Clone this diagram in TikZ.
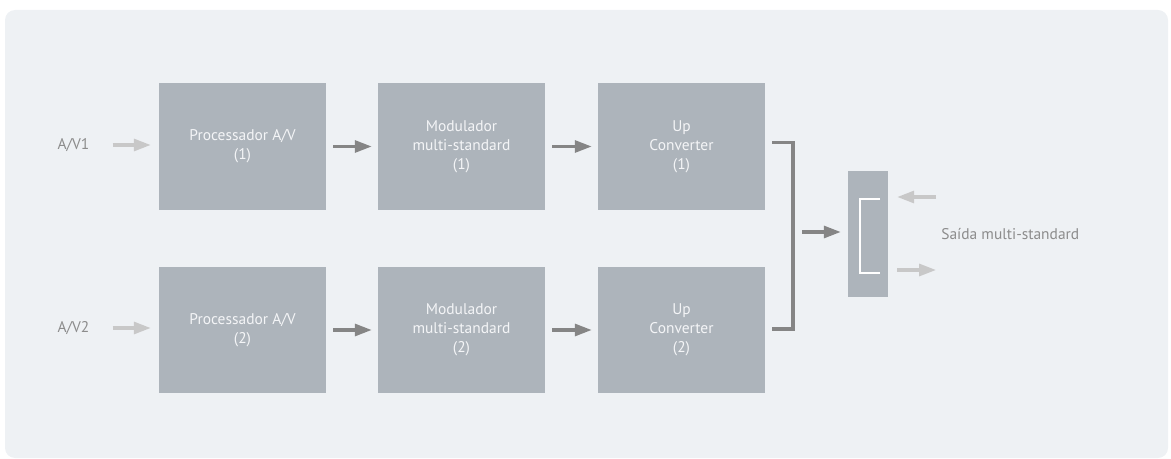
\documentclass[tikz,border=0pt]{standalone}
\usepackage{fontspec}
\setmainfont{PT Sans}
\usetikzlibrary{arrows.meta,calc}
\definecolor{panelbg}{HTML}{EEF1F4}
\definecolor{blockfill}{HTML}{ADB4BB}
\definecolor{blocktext}{HTML}{F4F5F7}
\definecolor{linkdark}{HTML}{858585}
\definecolor{linklight}{HTML}{C8C8C8}
\definecolor{labelgray}{HTML}{8C8C8C}
\newcommand{\pagearea}{(0,0) rectangle (1171,459)}
\newcommand{\panelarea}{(5,10) rectangle (1168,458)}

\begin{document}
\begin{tikzpicture}[x=0.025cm, y=-0.025cm, every node/.style={font=\fontsize{11pt}{13.5pt}\selectfont},
  block/.style={fill=blockfill, text=blocktext, align=center, inner sep=0pt, minimum width=4.175cm, minimum height=3.16cm},
  combiner/.style={fill=blockfill, inner sep=0pt, minimum width=1cm, minimum height=3.15cm},
  sidelabel/.style={text=labelgray, inner sep=0pt},
  darkarrow/.style={draw=linkdark, line width=2.2pt, -{Triangle[length=12pt, width=8.5pt]}},
  lightarrow/.style={draw=linklight, line width=2.2pt, -{Triangle[length=12pt, width=8.5pt]}},
  joinline/.style={draw=linkdark, line width=2.2pt},
  bracketline/.style={draw=white, line width=1.5pt}]

  \useasboundingbox \pagearea;
  \fill[panelbg, rounded corners=0.25cm] \panelarea;

  % two parallel chains
  \node[block] (proc1) at (242.5,146.5) {Processador A/V\\(1)};
  \node[block] (mod1)  at (461.5,146.5) {Modulador\\multi-standard\\(1)};
  \node[block] (up1)   at (681.5,146.5) {Up\\Converter\\(1)};
  \node[block] (proc2) at (242.5,330) {Processador A/V\\(2)};
  \node[block] (mod2)  at (461.5,330) {Modulador\\multi-standard\\(2)};
  \node[block] (up2)   at (681.5,330) {Up\\Converter\\(2)};
  \node[combiner] (comb) at (868,234) {};

  \node[sidelabel] (av1) at (73.5,145) {A/V1};
  \node[sidelabel] (av2) at (73.5,328) {A/V2};
  \node[sidelabel, anchor=west] (saida) at (941,234) {Saída multi-standard};

  \draw[lightarrow, shorten <=0.575cm, shorten >=0.2cm] (av1.east) -- (av1.east -| proc1.west);
  \draw[lightarrow, shorten <=0.575cm, shorten >=0.2cm] (av2.east) -- (av2.east -| proc2.west);
  \draw[darkarrow, shorten <=0.175cm, shorten >=0.15cm] (proc1) -- (mod1);
  \draw[darkarrow, shorten <=0.175cm, shorten >=0.15cm] (mod1) -- (up1);
  \draw[darkarrow, shorten <=0.175cm, shorten >=0.15cm] (proc2) -- (mod2);
  \draw[darkarrow, shorten <=0.175cm, shorten >=0.15cm] (mod2) -- (up2);

  % both converters join into the combiner
  \coordinate (join) at (793,232);
  \draw[joinline] ($(up1.east)+(7,-4)$) -| (join) |- ($(up2.east)+(7,-1)$);
  \draw[darkarrow, shorten <=0.225cm, shorten >=0.175cm] (join) -- (join -| comb.west);
  \draw[bracketline] ($(comb.center)+(12,-35)$) -| ($(comb.center)+(-8,39)$) -- ++(20,0);

  \coordinate (outtop) at (936,197);
  \coordinate (outbot) at (936,270);
  \draw[lightarrow, shorten >=0.225cm] (outtop) -- (outtop -| comb.east);
  \draw[lightarrow, shorten <=0.225cm] (outbot -| comb.east) -- (outbot);

\end{tikzpicture}
\end{document}
